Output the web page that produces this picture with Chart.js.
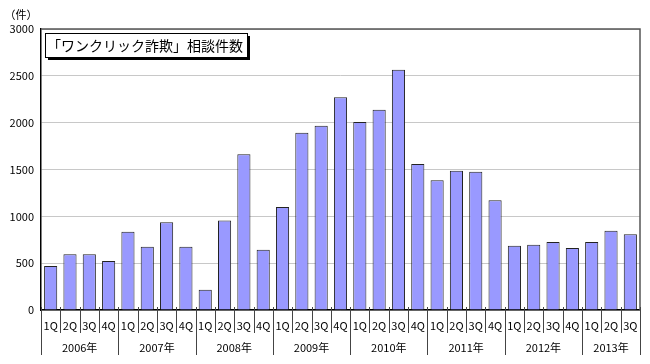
<!DOCTYPE html>
<html lang="ja">
<head>
<meta charset="utf-8">
<script src="https://cdn.jsdelivr.net/npm/chart.js@4"></script>
<style>
    html, body { margin: 0; padding: 0; background: #fff; }
    #wrap { width: 650px; height: 364px; position: relative; }
</style>
</head>
<body>
<div id="wrap"><canvas id="oneClickChart"></canvas></div>
<script>
// quarter labels and counts, 2006 1Q .. 2013 3Q
const quarters = ['1Q', '2Q', '3Q', '4Q', '1Q', '2Q', '3Q', '4Q', '1Q', '2Q', '3Q', '4Q',
    '1Q', '2Q', '3Q', '4Q', '1Q', '2Q', '3Q', '4Q', '1Q', '2Q', '3Q', '4Q',
    '1Q', '2Q', '3Q', '4Q', '1Q', '2Q', '3Q'];
const years = ['2006年', '2007年', '2008年', '2009年', '2010年', '2011年', '2012年', '2013年'];
const counts = [470, 595, 595, 523, 836, 676, 936, 676, 217, 955, 1662, 644,
    1100, 1892, 1967, 2272, 2006, 2137, 2564, 1558, 1384, 1487, 1476, 1171,
    686, 697, 726, 662, 726, 846, 808];
const yTicks = [0, 500, 1000, 1500, 2000, 2500, 3000];
const chartTitle = '「ワンクリック詐欺」相談件数';
const unitLabel = '（件）';

const fontFamily = '"Noto Sans CJK JP", "Liberation Sans", sans-serif';

// draws frame, quarter/year separators, year labels, unit and the boxed title
const decorPlugin = {
    id: 'decor',
    afterDraw(chart) {
        const ctx = chart.ctx;
        const area = chart.chartArea;
        const x = chart.scales.x;
        ctx.save();

        // top + right frame
        ctx.strokeStyle = '#555';
        ctx.lineWidth = 1.5;
        ctx.beginPath();
        ctx.moveTo(area.left, area.top);
        ctx.lineTo(area.right, area.top);
        ctx.lineTo(area.right, area.bottom);
        ctx.stroke();

        // separators between categories
        const step = x.getPixelForValue(1) - x.getPixelForValue(0);
        ctx.strokeStyle = '#444';
        ctx.lineWidth = 1;
        let groupStart = 0;
        const groups = [];
        for (let i = 0; i <= quarters.length; i++) {
            const bx = Math.round(x.getPixelForValue(i) - step / 2) + 0.5;
            const yearEdge = i === 0 || i === quarters.length || quarters[i] === '1Q';
            ctx.beginPath();
            ctx.moveTo(bx, area.bottom - 3);
            ctx.lineTo(bx, yearEdge ? area.bottom + 45 : area.bottom + 23);
            ctx.stroke();
            if (i > 0 && yearEdge) {
                groups.push([groupStart, i]);
                groupStart = i;
            }
        }

        // year labels
        ctx.fillStyle = '#000';
        ctx.font = '11px ' + fontFamily;
        ctx.textAlign = 'center';
        ctx.textBaseline = 'middle';
        groups.forEach((g, k) => {
            const cx = (x.getPixelForValue(g[0]) + x.getPixelForValue(g[1] - 1)) / 2;
            ctx.fillText(years[k], cx, area.bottom + 38);
        });

        // unit label
        ctx.fillText(unitLabel, 21, 15);

        // boxed title with shadow
        const bx = area.left + 4, by = area.top + 4, bw = 202, bh = 24;
        ctx.fillStyle = '#000';
        ctx.fillRect(bx + 3, by + 3, bw, bh);
        ctx.fillStyle = '#fff';
        ctx.fillRect(bx, by, bw, bh);
        ctx.strokeStyle = '#000';
        ctx.lineWidth = 1;
        ctx.strokeRect(bx + 0.5, by + 0.5, bw, bh);
        ctx.fillStyle = '#000';
        ctx.font = '14px ' + fontFamily;
        ctx.textAlign = 'left';
        ctx.fillText(chartTitle, bx + 2, by + bh / 2 + 1);

        ctx.restore();
    }
};

new Chart(document.getElementById('oneClickChart').getContext('2d'), {
    type: 'bar',
    data: {
        labels: quarters,
        datasets: [{
            label: chartTitle,
            data: counts,
            backgroundColor: '#9999ff',
            borderColor: '#222',
            borderWidth: 1,
            categoryPercentage: 1,
            barPercentage: 0.68
        }]
    },
    options: {
        responsive: true,
        maintainAspectRatio: false,
        animation: false,
        layout: { padding: { top: 29, right: 10, left: 0, bottom: 0 } },
        plugins: {
            legend: { display: false },
            title: { display: false },
            tooltip: { enabled: false }
        },
        scales: {
            y: {
                min: 0,
                max: 3000,
                afterBuildTicks: axis => { axis.ticks = yTicks.map(v => ({ value: v })); },
                afterFit: axis => { axis.width = 41; },
                ticks: {
                    color: '#000',
                    padding: 7,
                    font: { family: fontFamily, size: 11 },
                    callback: value => String(value)
                },
                grid: { color: '#c8c8c8', lineWidth: 1, drawTicks: false },
                border: { display: true, color: '#000', width: 1.5 }
            },
            x: {
                afterFit: axis => { axis.height = 54; },
                ticks: {
                    color: '#000',
                    padding: 9,
                    autoSkip: false,
                    maxRotation: 0,
                    font: { family: fontFamily, size: 11 }
                },
                grid: { display: false, drawTicks: false },
                border: { display: true, color: '#000', width: 1.5 }
            }
        }
    },
    plugins: [decorPlugin]
});
</script>
</body>
</html>
